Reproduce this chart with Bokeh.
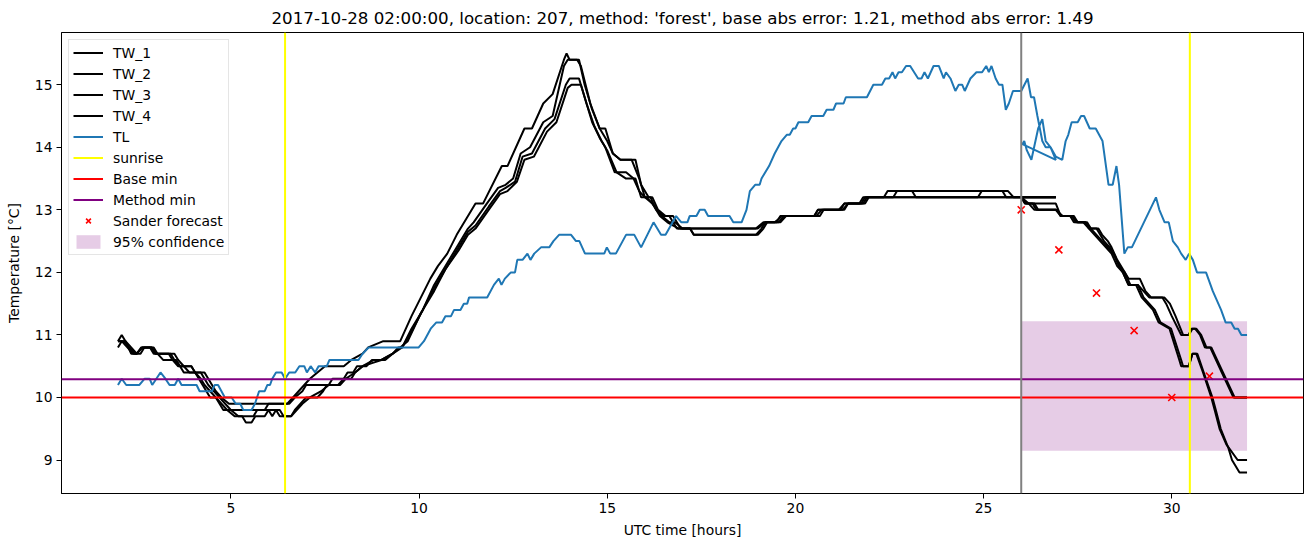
from bokeh.plotting import figure
from bokeh.models import Range1d, FixedTicker, Span, Legend, LegendItem
from bokeh.embed import file_html
from bokeh.resources import INLINE

TITLE = "2017-10-28 02:00:00, location: 207, method: 'forest', base abs error: 1.21, method abs error: 1.49"

# ---- TW_1 (history up to 26.92 h, then forecast from 26.0 h) ----
tw1_x = [2.0, 2.1, 2.2, 2.35, 2.5, 2.62, 2.85, 2.95, 3.4, 3.5, 3.65, 3.95, 4.05, 4.15, 4.25, 4.35, 4.45, 4.6, 4.7, 4.8,
         5.9, 6.0, 6.5, 6.65, 6.8, 6.95, 7.1, 7.3, 7.5, 8.0, 8.2, 8.5, 8.65, 9.05, 9.5, 9.8, 10.05, 10.3, 10.5, 10.75,
         11.0, 11.3, 11.5, 11.7, 12.2, 12.35, 12.8, 13.0, 13.3, 13.55, 13.85, 13.92, 14.0, 14.2, 14.3, 14.55, 14.8, 15.0,
         15.15, 15.35, 15.65, 15.85, 16.0, 16.15, 16.3, 16.5, 16.65, 16.85, 18.95, 19.15, 19.45, 19.65, 20.5, 20.6, 21.2,
         21.3, 21.75, 21.85, 22.35, 22.45, 25.65, 25.8, 26.92,
         26.0, 26.1, 26.3, 26.4, 26.95, 27.05, 27.4, 27.5, 27.75, 27.85, 28.05, 28.15, 28.3, 28.4, 28.55, 28.75, 28.85,
         29.15, 29.3, 29.45, 29.8, 29.95, 30.1, 30.3, 30.45, 30.52, 30.65, 30.78, 30.92, 31.05, 31.36, 31.67, 32.0]
tw1_y = [10.9, 11.0, 10.9, 10.8, 10.7, 10.8, 10.8, 10.7, 10.7, 10.6, 10.5, 10.5, 10.4, 10.3, 10.2, 10.1, 10.0, 10.0, 9.9, 9.8,
         9.8, 9.9, 9.9, 10.0, 10.1, 10.2, 10.3, 10.4, 10.5, 10.5, 10.6, 10.7, 10.8, 10.9, 10.9, 11.3, 11.6, 11.9, 12.1, 12.3,
         12.6, 12.9, 13.1, 13.1, 13.7, 13.7, 14.3, 14.3, 14.7, 14.85, 15.4, 15.5, 15.4, 15.4, 15.3, 14.7, 14.3, 14.1,
         13.9, 13.8, 13.8, 13.5, 13.2, 13.2, 13.0, 12.9, 12.9, 12.7, 12.7, 12.8, 12.8, 12.9, 12.9, 13.0, 13.0,
         13.1, 13.1, 13.2, 13.2, 13.3, 13.3, 13.2, 13.2,
         13.2, 13.1, 13.1, 13.0, 13.0, 12.9, 12.9, 12.8, 12.8, 12.7, 12.7, 12.6, 12.5, 12.4, 12.2, 12.0, 11.9,
         11.9, 11.7, 11.6, 11.6, 11.5, 11.3, 11.0, 11.0, 11.1, 11.1, 11.0, 10.8, 10.8, 10.4, 10.0, 10.0]

# ---- TW_2 ----
tw2_x = [2.0, 2.15, 2.3, 2.45, 2.6, 2.7, 2.9, 3.0, 3.5, 3.6, 3.75, 3.9, 4.3, 4.4, 4.5, 4.6, 4.75, 4.95, 6.55, 6.7,
         6.9, 7.0, 7.6, 7.7, 8.0, 8.1, 8.25, 8.35, 8.6, 8.75, 9.0, 9.3, 9.45, 9.55, 9.8, 10.1, 10.4, 10.75, 11.05, 11.3,
         11.45, 11.8, 12.1, 12.3, 12.5, 12.7, 12.95, 13.3, 13.55, 13.85, 13.95, 14.25, 14.4, 14.6, 14.8, 14.95, 15.15,
         15.35, 15.75, 15.9, 16.1, 16.2, 16.35, 16.55, 16.75, 16.95, 17.2, 17.3, 18.95, 19.1, 19.2, 19.55, 19.7, 20.55,
         20.7, 21.25, 21.4, 21.8, 21.9, 22.6, 22.7, 23.1, 23.2, 24.85, 24.95, 25.5, 25.6, 26.92,
         26.0, 26.15, 26.92, 27.05, 27.35, 27.45, 27.7, 27.8, 28.0, 28.2, 28.35, 28.5, 28.6, 28.7, 28.85, 29.1, 29.25,
         29.4, 29.75, 29.85, 30.0, 30.25, 30.45, 30.55, 30.62, 30.75, 30.88, 31.02, 31.33, 31.64, 32.0]
tw2_y = [10.9, 10.9, 10.8, 10.7, 10.7, 10.8, 10.8, 10.7, 10.7, 10.6, 10.5, 10.4, 10.4, 10.3, 10.2, 10.1, 10.0, 9.9, 9.9, 10.0,
         10.1, 10.2, 10.2, 10.3, 10.3, 10.4, 10.4, 10.5, 10.5, 10.6, 10.6, 10.7, 10.8, 10.8, 11.1, 11.4, 11.8, 12.15, 12.45, 12.7,
         12.8, 13.1, 13.35, 13.4, 13.5, 13.9, 14.0, 14.4, 14.5, 15.3, 15.4, 15.4, 15.0, 14.6, 14.3, 14.3, 13.9,
         13.8, 13.8, 13.4, 13.2, 13.2, 13.0, 12.9, 12.9, 12.7, 12.7, 12.6, 12.6, 12.7, 12.8, 12.8, 12.9, 12.9,
         13.0, 13.0, 13.1, 13.1, 13.2, 13.2, 13.3, 13.3, 13.2, 13.2, 13.3, 13.3, 13.2, 13.2,
         13.2, 13.1, 13.1, 12.9, 12.9, 12.8, 12.8, 12.7, 12.7, 12.5, 12.4, 12.25, 12.1, 12.0, 11.8, 11.8, 11.7,
         11.6, 11.6, 11.5, 11.3, 11.0, 11.0, 11.1, 11.1, 11.0, 10.8, 10.8, 10.4, 10.0, 10.0]

# ---- TW_3 ----
tw3_x = [2.0, 2.1, 2.2, 2.35, 2.5, 2.65, 2.95, 3.05, 3.2, 3.55, 3.65, 3.75, 4.2, 4.3, 4.4, 4.55, 4.7, 4.85, 5.0, 5.2,
         5.6, 5.7, 6.3, 6.4, 6.6, 6.75, 6.9, 7.1, 7.4, 7.6, 7.85, 8.0, 8.2, 8.3, 8.5, 8.8, 9.1, 9.3, 9.55, 9.75,
         10.1, 10.4, 10.75, 11.05, 11.3, 11.5, 11.85, 12.15, 12.3, 12.55, 12.75, 13.0, 13.35, 13.6, 13.9, 14.0, 14.25,
         14.4, 14.6, 14.8, 14.95, 15.2, 15.5, 15.7, 15.85, 16.0, 16.2, 16.4, 16.6, 16.9, 19.0, 19.2, 19.5, 19.6, 20.5,
         20.6, 21.15, 21.3, 21.7, 21.8, 26.92,
         26.0, 26.2, 26.35, 26.92, 27.05, 27.3, 27.4, 27.65, 27.8, 27.95, 28.1, 28.25, 28.4, 28.55, 28.7, 28.85, 29.05,
         29.2, 29.35, 29.5, 29.65, 29.94, 30.2, 30.25, 30.45, 30.55, 30.65, 30.83, 31.05, 31.14, 31.27, 31.45, 31.75, 32.0]
tw3_y = [10.8, 10.9, 10.9, 10.7, 10.7, 10.8, 10.8, 10.7, 10.6, 10.6, 10.5, 10.4, 10.4, 10.3, 10.2, 10.1, 10.0, 9.9, 9.8, 9.7,
         9.7, 9.8, 9.8, 9.7, 9.7, 9.8, 9.9, 10.0, 10.1, 10.2, 10.2, 10.3, 10.3, 10.4, 10.5, 10.6, 10.6, 10.7, 10.8, 11.0,
         11.4, 11.75, 12.1, 12.4, 12.65, 12.75, 13.05, 13.3, 13.35, 13.45, 13.85, 13.9, 14.3, 14.45, 15.0, 15.1, 15.1,
         14.8, 14.4, 14.15, 14.0, 13.6, 13.6, 13.5, 13.3, 13.2, 13.1, 12.9, 12.8, 12.7, 12.7, 12.8, 12.8, 12.9, 12.9,
         13.0, 13.0, 13.1, 13.1, 13.2, 13.2,
         13.2, 13.1, 13.0, 13.0, 12.9, 12.9, 12.8, 12.8, 12.7, 12.6, 12.5, 12.4, 12.3, 12.1, 12.0, 11.8, 11.8,
         11.6, 11.5, 11.4, 11.2, 11.1, 10.6, 10.5, 10.5, 10.7, 10.7, 10.4, 10.0, 9.8, 9.5, 9.25, 9.0, 9.0]

# ---- TW_4 ----
tw4_x = [2.0, 2.1, 2.25, 2.4, 2.5, 2.65, 2.9, 3.0, 3.35, 3.45, 3.6, 3.95, 4.05, 4.2, 4.3, 4.45, 4.6, 4.75, 4.9, 5.1,
         5.3, 5.4, 5.55, 5.65, 5.9, 6.0, 6.1, 6.2, 6.3, 6.6, 6.7, 6.85, 7.0, 7.3, 7.45, 7.55, 7.9, 8.05, 8.3, 8.5,
         8.75, 9.0, 9.3, 9.5, 9.7, 10.05, 10.4, 10.7, 11.05, 11.3, 11.5, 11.85, 12.15, 12.35, 12.6, 12.8, 13.05, 13.4,
         13.65, 13.95, 14.05, 14.3, 14.45, 14.65, 14.85, 15.0, 15.25, 15.5, 15.75, 15.9, 16.05, 16.2, 16.45, 16.65,
         16.8, 17.0, 17.2, 17.3, 19.0, 19.15, 19.25, 19.6, 19.75, 20.65, 20.75, 21.3, 21.4, 21.85, 21.95, 26.92,
         26.0, 26.1, 26.35, 26.45, 26.92, 27.1, 27.35, 27.5, 27.7, 27.85, 28.0, 28.15, 28.3, 28.45, 28.6, 28.75, 28.9,
         29.1, 29.25, 29.4, 29.55, 29.7, 29.98, 30.25, 30.3, 30.45, 30.55, 30.68, 30.85, 31.08, 31.17, 31.3, 31.5, 31.6,
         31.8, 32.0]
tw4_y = [10.9, 10.9, 10.8, 10.7, 10.7, 10.8, 10.8, 10.7, 10.7, 10.6, 10.5, 10.5, 10.4, 10.3, 10.2, 10.1, 10.0, 9.9, 9.8, 9.7,
         9.7, 9.6, 9.6, 9.7, 9.7, 9.8, 9.7, 9.8, 9.7, 9.7, 9.8, 9.9, 10.0, 10.0, 10.1, 10.2, 10.2, 10.3, 10.4, 10.5,
         10.55, 10.6, 10.7, 10.8, 10.9, 11.35, 11.7, 12.05, 12.35, 12.6, 12.7, 13.0, 13.25, 13.3, 13.45, 13.8, 13.85, 14.25,
         14.4, 14.95, 15.0, 15.0, 14.7, 14.35, 14.1, 13.95, 13.6, 13.5, 13.5, 13.2, 13.2, 13.1, 12.9, 12.8,
         12.8, 12.7, 12.7, 12.6, 12.6, 12.7, 12.8, 12.8, 12.9, 12.9, 13.0, 13.0, 13.1, 13.1, 13.2, 13.2,
         13.2, 13.1, 13.1, 13.0, 13.0, 12.9, 12.9, 12.8, 12.8, 12.7, 12.6, 12.5, 12.4, 12.3, 12.1, 12.0, 11.8,
         11.8, 11.6, 11.5, 11.4, 11.2, 11.1, 10.6, 10.5, 10.5, 10.7, 10.7, 10.4, 10.0, 9.8, 9.5, 9.2, 9.0,
         8.8, 8.8]

# ---- TL ----
tl_x = [2.0, 2.1, 2.22, 2.57, 2.71, 2.84, 2.91, 3.02, 3.13, 3.26, 3.37, 3.51, 3.6, 3.69, 4.09, 4.17, 4.5, 4.57, 4.66,
        4.75, 4.84, 5.02, 5.13, 5.25, 5.33, 5.55, 5.64, 5.75, 5.9, 5.97, 6.04, 6.1, 6.2, 6.35, 6.44, 6.55, 6.71, 6.82,
        6.95, 7.02, 7.12, 7.24, 7.33, 7.55, 7.62, 8.39, 8.5, 8.66, 9.99, 10.13, 10.31, 10.46, 10.61, 10.7, 10.85, 10.93,
        11.1, 11.19, 11.28, 11.33, 11.81, 11.99, 12.12, 12.19, 12.28, 12.44, 12.55, 12.61, 12.75, 12.88, 12.96, 13.06,
        13.24, 13.46, 13.57, 13.72, 14.04, 14.17, 14.26, 14.41, 14.92, 14.99, 15.08, 15.23, 15.5, 15.72, 15.9, 16.23,
        16.43, 16.55, 16.83, 16.97, 17.13, 17.19, 17.37, 17.46, 17.59, 17.68, 18.25, 18.35, 18.57, 18.7, 18.79, 18.93,
        19.05, 19.1, 19.3, 19.45, 19.63, 19.77, 19.85, 19.94, 20.0, 20.08, 20.34, 20.43, 20.74, 20.83, 21.01, 21.08,
        21.28, 21.34, 21.9, 22.07, 22.3, 22.39, 22.49, 22.58, 22.65, 22.74, 22.83, 22.94, 23.05, 23.26, 23.35, 23.43,
        23.52, 23.67, 23.81, 23.94, 24.0, 24.12, 24.25, 24.34, 24.43, 24.5, 24.65, 24.81, 24.96, 25.07, 25.14, 25.21,
        25.32, 25.41, 25.5, 25.59, 25.67, 25.78, 26.0, 26.17, 26.26, 26.34, 26.43, 26.56, 26.65, 26.78, 26.92,
        26.03, 26.08, 26.15, 26.27, 26.45, 26.56, 26.65, 26.78, 26.92, 27.09, 27.18, 27.25, 27.34, 27.5, 27.59, 27.67,
        27.82, 27.98, 28.16, 28.32, 28.43, 28.53, 28.6, 28.74, 28.83, 28.94, 29.58, 29.67, 29.81, 29.92, 30.03, 30.16,
        30.25, 30.37, 30.46, 30.56, 30.67, 30.91, 31.09, 31.31, 31.43, 31.58, 31.67, 31.76, 31.85, 32.0]
tl_y = [10.2, 10.3, 10.2, 10.2, 10.3, 10.3, 10.2, 10.3, 10.4, 10.3, 10.2, 10.2, 10.3, 10.2, 10.2, 10.1, 10.1, 10.2, 10.2,
        10.1, 10.0, 10.0, 9.9, 9.9, 9.8, 9.8, 9.9, 10.1, 10.1, 10.2, 10.2, 10.3, 10.4, 10.4, 10.3, 10.4, 10.4, 10.5,
        10.5, 10.4, 10.5, 10.4, 10.5, 10.5, 10.6, 10.6, 10.7, 10.8, 10.8, 10.9, 11.1, 11.2, 11.2, 11.3, 11.3, 11.4,
        11.4, 11.5, 11.5, 11.6, 11.6, 11.8, 11.9, 11.8, 11.9, 12.0, 12.0, 12.2, 12.2, 12.3, 12.2, 12.3,
        12.4, 12.4, 12.5, 12.6, 12.6, 12.5, 12.5, 12.3, 12.3, 12.4, 12.3, 12.3, 12.6, 12.6, 12.4, 12.8,
        12.6, 12.6, 12.9, 12.8, 12.8, 12.9, 12.9, 13.0, 13.0, 12.9, 12.9, 12.8, 12.8, 13.0, 13.3, 13.4,
        13.4, 13.5, 13.7, 13.9, 14.1, 14.2, 14.2, 14.3, 14.3, 14.4, 14.4, 14.5, 14.5, 14.6, 14.6, 14.7,
        14.7, 14.8, 14.8, 15.0, 15.0, 15.1, 15.1, 15.2, 15.1, 15.2, 15.2, 15.3, 15.3, 15.1, 15.1, 15.2,
        15.1, 15.3, 15.3, 15.1, 15.2, 15.1, 14.9, 15.0, 15.0, 14.9, 15.1, 15.2, 15.2, 15.3, 15.2, 15.3,
        15.1, 15.0, 15.0, 14.6, 14.7, 14.9, 14.9, 15.1, 14.8, 14.8, 14.5, 14.1, 14.0, 14.0, 13.8,
        14.05, 14.1, 13.95, 13.8, 14.3, 14.45, 14.1, 14.0, 13.85, 13.8, 14.1, 14.2, 14.4, 14.4, 14.5, 14.5,
        14.3, 14.3, 14.1, 13.4, 13.4, 13.7, 13.4, 12.3, 12.4, 12.4, 13.2, 13.0, 12.8, 12.8, 12.5, 12.4,
        12.3, 12.2, 12.3, 12.2, 12.0, 12.0, 11.7, 11.4, 11.2, 11.2, 11.1, 11.1, 11.0, 11.0]

sunrise_hours = [6.44, 30.48]
forecast_start = 26.0
base_min = 10.0
method_min = 10.29
sander_x = [26, 27, 28, 29, 30, 31]
sander_y = [13.0, 12.36, 11.67, 11.07, 10.0, 10.34]
conf_x = [26.0, 32.0]
conf_low = 9.15
conf_high = 11.22

x_ticks = [5, 10, 15, 20, 25, 30]
y_ticks = [9, 10, 11, 12, 13, 14, 15]

FONT = "DejaVu Sans"

# ranges with matplotlib-like 5% margins
all_x = tw1_x + tw2_x + tw3_x + tw4_x + tl_x
all_y = tw1_y + tw2_y + tw3_y + tw4_y + tl_y
xmin, xmax = min(all_x), max(all_x)
ymin, ymax = min(all_y), max(all_y)
dx, dy = (xmax - xmin) * 0.05, (ymax - ymin) * 0.05

p = figure(width=1311, height=547, output_backend="svg", toolbar_location=None,
           x_range=Range1d(xmin - dx, xmax + dx), y_range=Range1d(ymin - dy, ymax + dy),
           min_border_left=61, min_border_right=8, min_border_top=32, min_border_bottom=54)
p.title.text = TITLE
p.title.align = "center"
p.title.text_font = FONT
p.title.text_font_size = "16.7px"
p.title.text_font_style = "normal"
p.title.text_color = "black"

p.xgrid.visible = False
p.ygrid.visible = False
p.outline_line_color = "black"
p.outline_line_width = 1
p.outline_line_alpha = 1

for ax in (p.xaxis[0], p.yaxis[0]):
    ax.major_tick_out = 5
    ax.major_tick_in = 0
    ax.minor_tick_out = 0
    ax.minor_tick_in = 0
    ax.major_label_text_font = FONT
    ax.major_label_text_font_size = "13.9px"
    ax.major_label_text_color = "black"
    ax.axis_label_text_font = FONT
    ax.axis_label_text_font_size = "13.9px"
    ax.axis_label_text_font_style = "normal"
    ax.axis_label_text_color = "black"
    ax.axis_line_color = "black"
    ax.major_tick_line_color = "black"
    ax.major_label_standoff = 4

p.xaxis[0].ticker = FixedTicker(ticks=x_ticks)
p.yaxis[0].ticker = FixedTicker(ticks=y_ticks)
p.xaxis[0].axis_label = "UTC time [hours]"
p.yaxis[0].axis_label = "Temperature [°C]"
p.xaxis[0].axis_label_standoff = 6
p.yaxis[0].axis_label_standoff = 10

# confidence band (drawn first, below lines)
r_conf = p.quad(left=[conf_x[0]], right=[conf_x[1]], bottom=[conf_low], top=[conf_high],
                fill_color="purple", fill_alpha=0.2, line_color=None)

r_tw = []
for xs, ys in ((tw1_x, tw1_y), (tw2_x, tw2_y), (tw3_x, tw3_y), (tw4_x, tw4_y)):
    r_tw.append(p.line(xs, ys, line_color="black", line_width=2))
r_tl = p.line(tl_x, tl_y, line_color="#1f77b4", line_width=2)

# vertical / horizontal reference lines
for h in sunrise_hours:
    p.add_layout(Span(location=h, dimension="height", line_color="yellow", line_width=2))
p.add_layout(Span(location=base_min, dimension="width", line_color="red", line_width=2))
p.add_layout(Span(location=method_min, dimension="width", line_color="purple", line_width=2))
p.add_layout(Span(location=forecast_start, dimension="height", line_color="grey", line_width=2))

r_sander = p.scatter(sander_x, sander_y, marker="x", size=10, line_color="red", line_width=1.6)

# legend proxies for the span lines (single point: draws nothing on the plot)
r_sun = p.line([sunrise_hours[0]], [base_min], line_color="yellow", line_width=2)
r_base = p.line([sunrise_hours[0]], [base_min], line_color="red", line_width=2)
r_meth = p.line([sunrise_hours[0]], [method_min], line_color="purple", line_width=2)

items = [LegendItem(label="TW_1", renderers=[r_tw[0]]),
         LegendItem(label="TW_2", renderers=[r_tw[1]]),
         LegendItem(label="TW_3", renderers=[r_tw[2]]),
         LegendItem(label="TW_4", renderers=[r_tw[3]]),
         LegendItem(label="TL", renderers=[r_tl]),
         LegendItem(label="sunrise", renderers=[r_sun]),
         LegendItem(label="Base min", renderers=[r_base]),
         LegendItem(label="Method min", renderers=[r_meth]),
         LegendItem(label="Sander forecast", renderers=[r_sander]),
         LegendItem(label="95% confidence", renderers=[r_conf])]
legend = Legend(items=items, location="top_left")
legend.margin = 7
legend.padding = 4
legend.spacing = 4
legend.glyph_width = 30
legend.glyph_height = 17
legend.label_height = 17
legend.label_standoff = 10
legend.label_text_font = FONT
legend.label_text_font_size = "13.9px"
legend.label_text_color = "black"
legend.border_line_color = "#cccccc"
legend.border_line_width = 1
legend.background_fill_alpha = 0.8
p.add_layout(legend)

open("out.html", "w").write(file_html(p, INLINE))
